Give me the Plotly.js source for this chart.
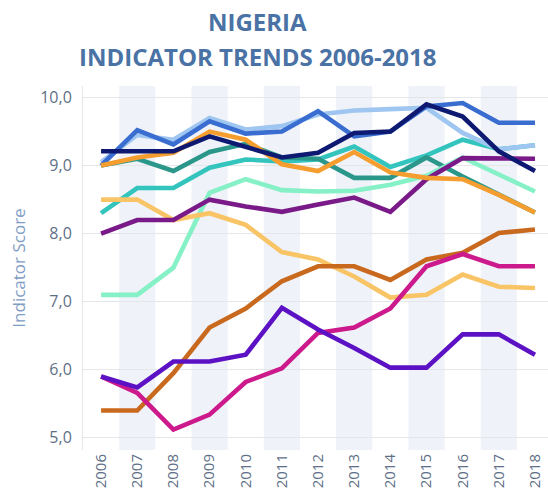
<!DOCTYPE html>
<html><head><meta charset="utf-8">
<script src="https://cdn.plot.ly/plotly-3.0.1.min.js"></script>
<style>html,body{margin:0;padding:0;background:#fff}#chart{width:548px;height:501px}</style>
</head><body><div id="chart"></div><script>
const years = [2006,2007,2008,2009,2010,2011,2012,2013,2014,2015,2016,2017,2018];
const yTickVals = [5,6,7,8,9,10];
const yTickText = ['5,0','6,0','7,0','8,0','9,0','10,0'];
const shadedYears = [2007,2009,2011,2013,2015,2017];

const turquoise   = [8.3, 8.67, 8.67, 8.97, 9.09, 9.06, 9.09, 9.28, 8.98, 9.15, 9.38, 9.24, 9.3];
const lightBlue   = [9.05, 9.45, 9.38, 9.7, 9.53, 9.58, 9.75, 9.81, 9.83, 9.85, 9.48, 9.24, 9.3];
const mediumBlue  = [9.0, 9.52, 9.31, 9.65, 9.47, 9.5, 9.8, 9.43, 9.5, 9.87, 9.92, 9.63, 9.63];
const teal        = [9.0, 9.1, 8.92, 9.2, 9.32, 9.12, 9.1, 8.82, 8.82, 9.12, 8.84, 8.57, 8.31];
const mint        = [7.1, 7.1, 7.5, 8.6, 8.8, 8.64, 8.62, 8.63, 8.72, 8.85, 9.12, 8.87, 8.62];
const lightOrange = [8.5, 8.5, 8.2, 8.3, 8.13, 7.73, 7.62, 7.37, 7.06, 7.1, 7.4, 7.22, 7.2];
const purple      = [8.0, 8.2, 8.2, 8.5, 8.4, 8.32, 8.43, 8.53, 8.32, 8.8, 9.11, 9.1, 9.1];
const orange      = [9.0, 9.12, 9.19, 9.5, 9.38, 9.02, 8.92, 9.2, 8.9, 8.82, 8.8, 8.57, 8.31];
const navy        = [9.21, 9.21, 9.21, 9.43, 9.27, 9.12, 9.19, 9.48, 9.5, 9.9, 9.72, 9.21, 8.92];
const brown       = [5.4, 5.4, 5.95, 6.62, 6.9, 7.3, 7.52, 7.52, 7.32, 7.62, 7.72, 8.01, 8.06];
const magenta     = [5.9, 5.66, 5.12, 5.34, 5.82, 6.02, 6.54, 6.62, 6.9, 7.52, 7.7, 7.52, 7.52];
const violet      = [5.9, 5.74, 6.12, 6.12, 6.22, 6.91, 6.59, 6.32, 6.03, 6.03, 6.52, 6.52, 6.22];

const seriesList = [
  ['Turquoise', turquoise, '#33c4bd'],
  ['Light blue', lightBlue, '#9fc6f0'],
  ['Medium blue', mediumBlue, '#3a6dd0'],
  ['Teal', teal, '#2a978a'],
  ['Mint', mint, '#86f0c6'],
  ['Light orange', lightOrange, '#f8c466'],
  ['Purple', purple, '#7a1a88'],
  ['Orange', orange, '#f59d2e'],
  ['Navy', navy, '#0e1a72'],
  ['Brown', brown, '#c9691e'],
  ['Magenta', magenta, '#cc1a8c'],
  ['Violet', violet, '#5c12c4']
];

const traces = seriesList.map(([name, vals, color]) => ({
  type: 'scatter', mode: 'lines', name: name,
  x: years, y: vals,
  line: {color: color, width: 4.6},
  hoverinfo: 'x+y+name'
}));

const shapes = shadedYears.map(yr => ({
  type: 'rect', layer: 'below', xref: 'x', yref: 'paper',
  x0: yr - 0.5, x1: yr + 0.5, y0: 0, y1: 1,
  fillcolor: '#eff3f9', line: {width: 0}
}));

const layout = {
  width: 548, height: 501,
  margin: {l: 83, r: 0, t: 86, b: 51},
  paper_bgcolor: '#ffffff', plot_bgcolor: '#ffffff',
  showlegend: false,
  font: {family: 'Open Sans, sans-serif', color: '#5e6f88'},
  xaxis: {
    range: [2005.5, 2018.36], tickvals: years, ticktext: years.map(String),
    tickangle: -90, showgrid: false, zeroline: false, showline: false,
    ticks: '', tickfont: {size: 15, color: '#5e6f88'}
  },
  yaxis: {
    range: [4.82, 10.17], tickvals: yTickVals, ticktext: yTickText,
    showgrid: true, gridcolor: '#e4e6ea', gridwidth: 1, zeroline: false,
    showline: true, linecolor: '#e4e6ea', ticks: '', ticklabelstandoff: 7,
    tickfont: {size: 16, color: '#5e6f88'},
    title: {text: 'Indicator Score', font: {size: 17, color: '#7f9dc4'}, standoff: 10}
  },
  shapes: shapes,
  annotations: [
    {text: '<b>NIGERIA</b>', xref: 'paper', yref: 'paper', x: 0.376, y: 1.176,
     xanchor: 'center', yanchor: 'middle', showarrow: false,
     font: {size: 24, color: '#4a72a5', family: 'Open Sans, sans-serif'}},
    {text: '<b>INDICATOR TRENDS 2006-2018</b>', xref: 'paper', yref: 'paper', x: 0.376, y: 1.08,
     xanchor: 'center', yanchor: 'middle', showarrow: false,
     font: {size: 24, color: '#4a72a5', family: 'Open Sans, sans-serif'}}
  ]
};

Plotly.newPlot('chart', traces, layout, {displayModeBar: false, staticPlot: true});
</script></body></html>
